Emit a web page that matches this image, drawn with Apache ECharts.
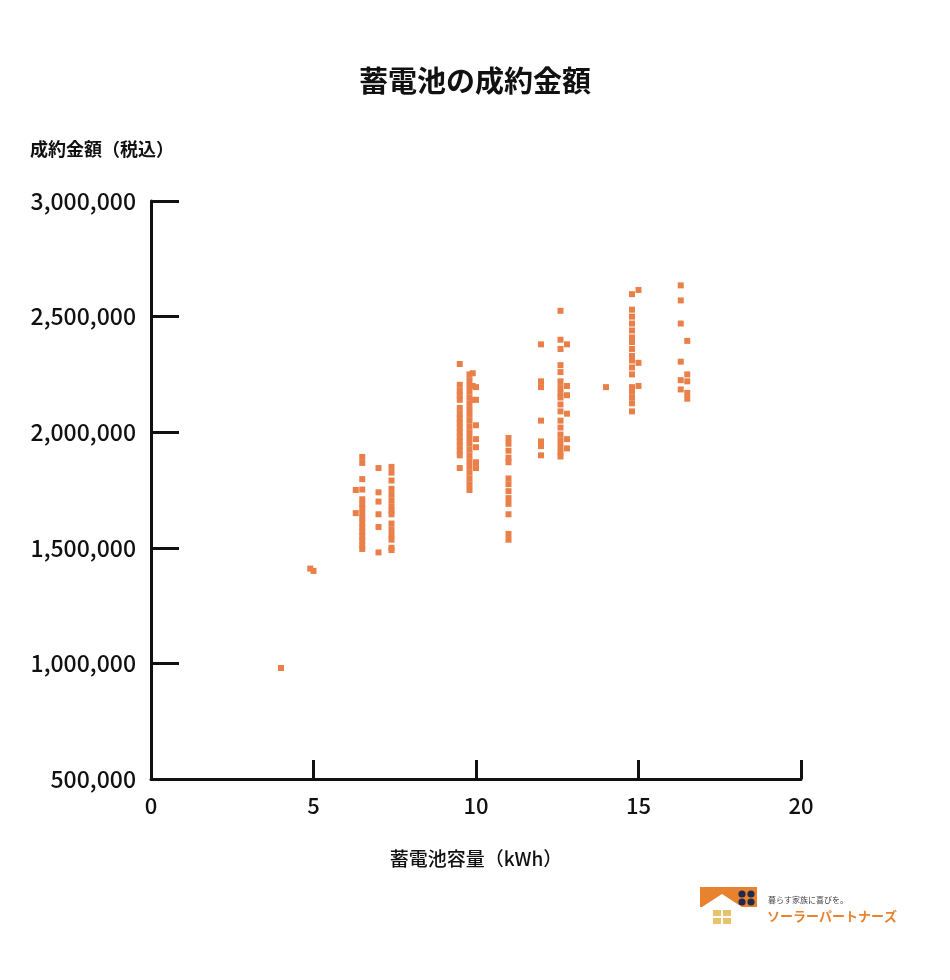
<!DOCTYPE html>
<html><head><meta charset="utf-8">
<script src="https://cdn.jsdelivr.net/npm/echarts@6/dist/echarts.min.js"></script>
<style>html,body{margin:0;padding:0;background:#fff}#c{width:950px;height:980px}</style>
</head><body><div id="c"></div><script>
// Battery capacity (kWh) groups and contract amounts (JPY, tax incl.)
const capacities = [4.0, 4.9, 5.0, 6.3, 6.5, 7.0, 7.4, 9.5, 9.8, 9.9, 10.0, 11.0, 12.0, 12.6, 12.8, 14.0, 14.8, 15.0, 16.3, 16.5];
const amounts = [
  [980000],
  [1410000],
  [1400000],
  [1750000, 1650000],
  [1893000, 1867000, 1797000, 1752000, 1710000, 1690000, 1670000, 1650000, 1630000, 1610000, 1590000, 1570000, 1550000, 1530000, 1510000, 1495000],
  [1845000, 1740000, 1700000, 1645000, 1590000, 1480000],
  [1850000, 1825000, 1791000, 1755000, 1730000, 1705000, 1680000, 1660000, 1645000, 1605000, 1580000, 1555000, 1535000, 1500000, 1490000],
  [2295000, 2205000, 2180000, 2160000, 2140000, 2105000, 2080000, 2060000, 2040000, 2020000, 2000000, 1980000, 1960000, 1940000, 1920000, 1900000, 1845000],
  [2250000, 2225000, 2200000, 2175000, 2150000, 2125000, 2100000, 2075000, 2050000, 2025000, 2000000, 1975000, 1950000, 1925000, 1900000, 1875000, 1850000, 1825000, 1800000, 1775000, 1750000],
  [2255000, 2200000, 2140000],
  [2195000, 2140000, 2030000, 1970000, 1935000, 1870000, 1845000],
  [1975000, 1950000, 1920000, 1890000, 1870000, 1800000, 1775000, 1745000, 1715000, 1690000, 1645000, 1560000, 1535000],
  [2380000, 2220000, 2195000, 2050000, 1960000, 1940000, 1900000],
  [2525000, 2400000, 2360000, 2290000, 2260000, 2220000, 2195000, 2170000, 2150000, 2120000, 2090000, 2050000, 2020000, 1990000, 1965000, 1940000, 1915000, 1895000],
  [2380000, 2200000, 2160000, 2080000, 1970000, 1930000],
  [2195000],
  [2597000, 2530000, 2500000, 2470000, 2440000, 2410000, 2390000, 2360000, 2330000, 2310000, 2280000, 2250000, 2195000, 2175000, 2150000, 2125000, 2090000],
  [2615000, 2300000, 2200000],
  [2635000, 2570000, 2470000, 2305000, 2225000, 2185000],
  [2395000, 2250000, 2220000, 2170000, 2145000]
];
const xTicks = [0, 5, 10, 15, 20];
const yTicks = [500000, 1000000, 1500000, 2000000, 2500000, 3000000];

const titleText = '蓄電池の成約金額';
const yName = '成約金額（税込）';
const xName = '蓄電池容量（kWh）';

const points = [];
capacities.forEach((c, i) => amounts[i].forEach(v => points.push([c, v])));

const FONT = '"Noto Sans CJK JP", "Noto Sans", sans-serif';
const chart = echarts.init(document.getElementById('c'), null, {renderer: 'canvas'});
chart.setOption({
  backgroundColor: '#fff',
  animation: false,
  title: {
    text: titleText, left: 'center', top: 61,
    textStyle: {fontFamily: FONT, fontSize: 29, fontWeight: 'bold', color: '#111'}
  },
  grid: {left: 151, top: 201, width: 650, height: 578, containLabel: false},
  xAxis: {
    type: 'value', min: xTicks[0], max: xTicks[xTicks.length - 1], interval: 5,
    name: xName, nameLocation: 'center', nameGap: 70,
    nameTextStyle: {fontFamily: FONT, fontSize: 19, color: '#111', fontWeight: 500},
    axisLine: {show: true, lineStyle: {color: '#111', width: 3}},
    axisTick: {show: true, inside: true, length: 19, lineStyle: {color: '#111', width: 3}},
    axisLabel: {margin: 16, fontFamily: FONT, fontSize: 22, color: '#111', fontWeight: 500},
    splitLine: {show: false}
  },
  yAxis: {
    type: 'value', min: yTicks[0], max: yTicks[yTicks.length - 1], interval: 500000,
    axisLine: {show: true, lineStyle: {color: '#111', width: 3}},
    axisTick: {show: true, inside: true, length: 28, lineStyle: {color: '#111', width: 3}},
    axisLabel: {margin: 15, fontFamily: FONT, fontSize: 23, color: '#111', fontWeight: 500,
      formatter: v => v.toLocaleString('en-US')},
    splitLine: {show: false}
  },
  series: [{
    type: 'scatter', data: points, symbol: 'rect', symbolSize: 6,
    itemStyle: {color: '#EA8049', opacity: 1}
  }],
  graphic: [
    {type: 'text', left: 30, top: 140,
     style: {text: yName, font: 'bold 18px ' + FONT, fill: '#111'}},
    {type: 'group', left: 700, top: 887, children: [
      {type: 'polygon', shape: {points: [[0,0],[57,0],[57,20],[42,20],[22,7],[2,20],[0,20]]}, style: {fill: '#E9822E'}},
      {type: 'circle', shape: {cx: 42, cy: 7, r: 3.6}, style: {fill: '#1F2A4D'}},
      {type: 'circle', shape: {cx: 51, cy: 7, r: 3.6}, style: {fill: '#1F2A4D'}},
      {type: 'circle', shape: {cx: 42, cy: 15, r: 3.6}, style: {fill: '#1F2A4D'}},
      {type: 'circle', shape: {cx: 51, cy: 15, r: 3.6}, style: {fill: '#1F2A4D'}},
      {type: 'rect', shape: {x: 13, y: 23, width: 8, height: 6}, style: {fill: '#E7C36B'}},
      {type: 'rect', shape: {x: 23, y: 23, width: 8, height: 6}, style: {fill: '#E7C36B'}},
      {type: 'rect', shape: {x: 13, y: 31, width: 8, height: 6}, style: {fill: '#E7C36B'}},
      {type: 'rect', shape: {x: 23, y: 31, width: 8, height: 6}, style: {fill: '#E7C36B'}},
      {type: 'text', x: 68, y: 9, style: {text: '暮らす家族に喜びを。', font: '8px ' + FONT, fill: '#444'}},
      {type: 'text', x: 67, y: 23, style: {text: 'ソーラーパートナーズ', font: 'bold 13px ' + FONT, fill: '#E9822E'}}
    ]}
  ]
});
</script></body></html>
